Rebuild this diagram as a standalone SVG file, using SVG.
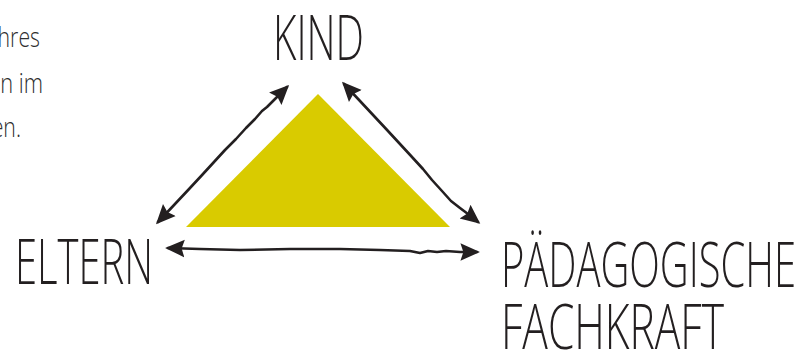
<svg xmlns="http://www.w3.org/2000/svg" width="811" height="351" viewBox="0 0 811 351">
<style>
.lbl{font-family:"Open Sans","Liberation Sans",sans-serif;font-weight:300;font-size:63px;fill:#231f20}
.side{font-family:"Open Sans","Liberation Sans",sans-serif;font-weight:300;font-size:28px;fill:#2e2e2e}
.arr{fill:none;stroke:#231f20;stroke-width:2.6;stroke-linecap:round;stroke-linejoin:round;marker-start:url(#ah);marker-end:url(#ah)}
</style>
<defs>
<marker id="ah" viewBox="0 0 10 10" refX="8.5" refY="5" markerWidth="7.5" markerHeight="7.5" markerUnits="strokeWidth" orient="auto-start-reverse">
<path d="M0,0.5 L10,5 L0,9.5 L1.5,5 Z" fill="#231f20"/>
</marker>
</defs>
<rect width="811" height="351" fill="#ffffff"/>
<g id="side-text">
<text class="side" transform="translate(40,47) scale(0.76,1)" text-anchor="end">hres</text>
<text class="side" transform="translate(43,93) scale(0.78,1)" text-anchor="end">n im</text>
<text class="side" transform="translate(21,137) scale(0.76,1)" text-anchor="end">en.</text>
</g>
<g id="triangle">
<polygon points="318,94 450,227 186,227" fill="#d9cb00"/>
</g>
<g id="kind">
<text class="lbl" x="273" y="60" textLength="91" lengthAdjust="spacingAndGlyphs">KIND</text>
</g>
<g id="eltern">
<text class="lbl" x="15" y="284" textLength="138" lengthAdjust="spacingAndGlyphs">ELTERN</text>
</g>
<g id="fachkraft">
<text class="lbl" x="501" y="287" textLength="295" lengthAdjust="spacingAndGlyphs">PÄDAGOGISCHE</text>
<text class="lbl" x="501" y="349" textLength="223" lengthAdjust="spacingAndGlyphs">FACHKRAFT</text>
</g>
<g id="connectors">
<path class="arr" d="M158,222 L175,204 L190,188 L203,174 L214,162 L225,150 L236,139 L246,128 L255,119 L262,111 L267,107 L272,102 L280,94 L287,87"/>
<path class="arr" d="M344,84 L360,101 L374,116 L388,131 L400,144 L412,157 L423,169 L432,180 L442,191 L451,201 L460,208 L468,214 L478,222"/>
<path class="arr" d="M168,248 L200,249 L240,250 L290,249 L340,249 L380,250 L410,251 L420,253 L428,251 L437,252 L446,251 L460,252 L477,252"/>
</g>
</svg>
